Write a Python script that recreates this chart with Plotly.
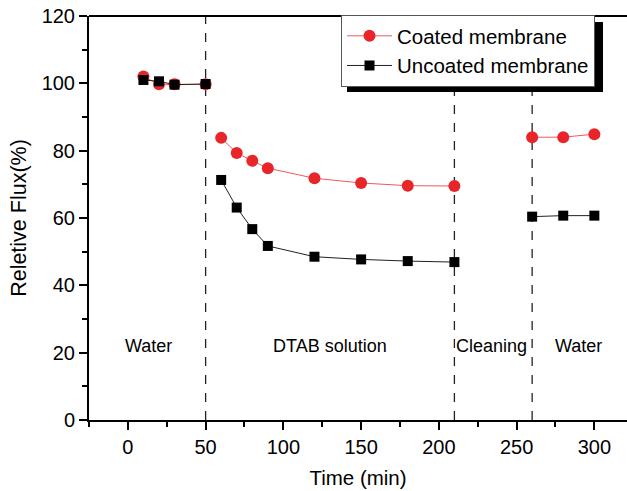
import plotly.graph_objects as go

# Data (None marks the breaks between stages)
time_coated = [10, 20, 30, 50, None, 60, 70, 80, 90, 120, 150, 180, 210, None, 260, 280, 300]
flux_coated = [102.0, 99.7, 99.7, 99.7, None, 83.8, 79.3, 77.0, 74.8, 71.8, 70.4, 69.6, 69.5, None, 84.0, 84.0, 84.9]
time_uncoated = [10, 20, 30, 50, None, 60, 70, 80, 90, 120, 150, 180, 210, None, 260, 280, 300]
flux_uncoated = [101.0, 100.6, 99.6, 99.8, None, 71.3, 63.1, 56.7, 51.7, 48.5, 47.7, 47.2, 46.9, None, 60.4, 60.7, 60.7]

stage_bounds = [50, 210, 260]
stage_labels = ["Water", "DTAB solution", "Cleaning", "Water"]
stage_label_x = [13, 130, 234, 290]
stage_label_y = 22

FONT = "Liberation Sans, Arial, sans-serif"

fig = go.Figure()
fig.add_trace(go.Scatter(
    x=time_coated, y=flux_coated, name="Coated membrane", mode="lines+markers",
    line=dict(color="#ee5a5c", width=1),
    marker=dict(symbol="circle", size=12, color="#e8262a", line=dict(width=0)),
    connectgaps=False,
))
fig.add_trace(go.Scatter(
    x=time_uncoated, y=flux_uncoated, name="Uncoated membrane", mode="lines+markers",
    line=dict(color="#222222", width=1),
    marker=dict(symbol="square", size=10, color="black", line=dict(width=0)),
    connectgaps=False,
))

for xb in stage_bounds:
    fig.add_shape(type="line", x0=xb, x1=xb, y0=0, y1=120, xref="x", yref="y",
                  line=dict(color="#222222", width=1.3, dash="dash"), layer="below")

for lab, lx in zip(stage_labels, stage_label_x):
    fig.add_annotation(x=lx, y=stage_label_y, text=lab, showarrow=False,
                       font=dict(family=FONT, size=18, color="black"))

# legend shadow (paper coords; plot area spans x 89..627, y 16..420)
W_PLOT = 538.0
H_PLOT = 404.0
def px(xp): return (xp - 89) / W_PLOT
def py(yp): return (420 - yp) / H_PLOT
fig.add_shape(type="rect", xref="paper", yref="paper",
              x0=px(347), x1=px(603), y0=py(92), y1=py(22),
              fillcolor="black", line=dict(width=0), layer="above")

fig.update_layout(
    width=627, height=491,
    margin=dict(l=89, r=0, t=16, b=71, autoexpand=False),
    paper_bgcolor="white", plot_bgcolor="white",
    font=dict(family=FONT, size=20, color="black"),
    showlegend=True,
    legend=dict(x=px(341), y=py(15), xanchor="left", yanchor="top",
                bgcolor="white", bordercolor="#555555", borderwidth=1,
                font=dict(family=FONT, size=20.5), tracegroupgap=0,
                itemwidth=45),
    xaxis=dict(
        range=[-25, 321], tickvals=[0, 50, 100, 150, 200, 250, 300],
        ticks="outside", ticklen=8, tickwidth=2, tickcolor="black",
        minor=dict(tickvals=[-25, 25, 75, 125, 175, 225, 275], ticks="outside", ticklen=5, tickwidth=2, tickcolor="black"),
        showline=True, linecolor="black", linewidth=2, mirror=False,
        showgrid=False, zeroline=False, automargin=False,
        ticklabeloverflow="allow",
        title=dict(text="Time (min)", font=dict(size=20.5), standoff=14),
        tickfont=dict(size=20),
    ),
    yaxis=dict(
        range=[0, 120], tickvals=[0, 20, 40, 60, 80, 100, 120],
        ticks="outside", ticklen=8, tickwidth=2, tickcolor="black",
        minor=dict(tickvals=[10, 30, 50, 70, 90, 110], ticks="outside", ticklen=5, tickwidth=2, tickcolor="black"),
        showline=True, linecolor="black", linewidth=2,
        showgrid=False, zeroline=False, automargin=False,
        ticklabeloverflow="allow",
        title=dict(text="Reletive Flux(%)", font=dict(size=21.5), standoff=9),
        tickfont=dict(size=20),
    ),
)
# top frame line
fig.add_shape(type="line", xref="paper", yref="paper", x0=0, x1=1, y0=1, y1=1,
              line=dict(color="black", width=2), layer="above")

fig.write_html("out.html", config={"displayModeBar": False},
               post_script="document.body.style.margin='0';")
